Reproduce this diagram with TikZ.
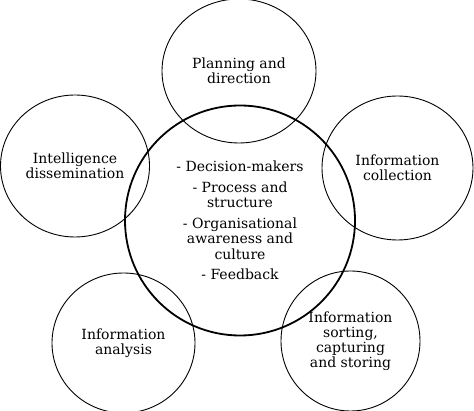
\documentclass[tikz,border=0pt]{standalone}
\usepackage{fontspec}
\setmainfont{DejaVu Serif}
\usetikzlibrary{shapes.geometric}

\begin{document}
\begin{tikzpicture}[x=1pt, y=-1pt, stage/.style={draw, ellipse, line width=0.9pt, inner sep=0pt, align=center, font=\fontsize{14}{15}\selectfont}, core/.style={draw, circle, line width=1.8pt, minimum size=230pt, inner sep=0pt, align=center, font=\fontsize{14}{15.5}\selectfont}]
\useasboundingbox (0,0) rectangle (474,411);
\node[core] (core) at (240,220.5) {- Decision-makers\\[5pt] - Process and\\ structure\\[5pt] - Organisational\\ awareness and\\ culture\\[5pt] - Feedback};
\node[stage, minimum width=154pt, minimum height=144pt] (planning) at (239,71) {Planning and\\ direction};
\node[stage, minimum width=151pt, minimum height=144pt] (collection) at (397.5,168) {Information\\ collection};
\node[stage, minimum width=149pt, minimum height=142pt] (dissemination) at (75,166) {Intelligence\\ dissemination};
\node[stage, minimum width=143pt, minimum height=140pt] (analysis) at (123.5,343) {Information\\ analysis};
\node[stage, minimum width=139pt, minimum height=140pt] (sorting) at (350.5,341) {Information\\ sorting,\\ capturing\\ and storing};
\end{tikzpicture}
\end{document}
